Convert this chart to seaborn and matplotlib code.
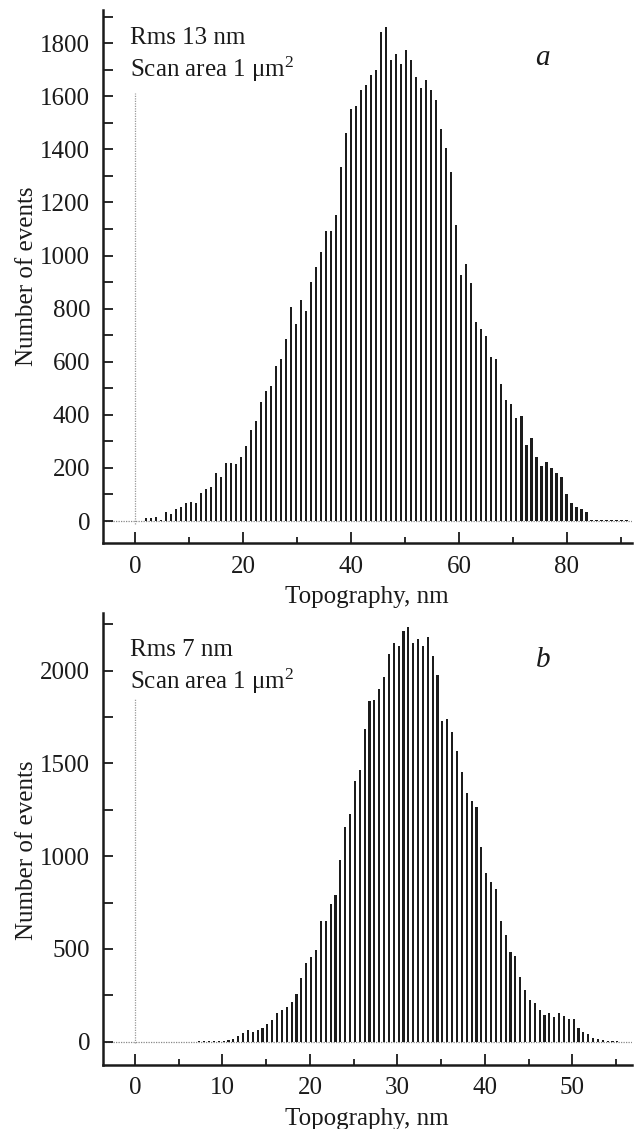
import numpy as np
import matplotlib
matplotlib.use("Agg")
import matplotlib.pyplot as plt
from matplotlib.ticker import MultipleLocator
import seaborn as sns

# Panel a: Rms 13 nm, bins
start_a = 2.04
bin_a = 0.927
counts_a = [10, 10, 16, 5, 35, 26, 44, 52, 69, 70, 69, 104, 122, 129, 180, 164,
            217, 217, 215, 242, 284, 343, 376, 448, 489, 508, 585, 611, 685, 807,
            741, 832, 792, 901,
            957, 1014, 1093, 1093, 1152, 1334, 1460, 1554, 1563, 1623, 1642, 1679,
            1698, 1842, 1861, 1738, 1758, 1721, 1776, 1738, 1671, 1630, 1663, 1623,
            1585, 1475, 1407, 1313, 1117, 926, 970,
            895, 748, 722, 697, 619, 611, 517, 456, 439, 389, 396, 286, 311, 242,
            207, 223, 198, 180, 164, 102, 69, 52, 44, 33,
            5, 4, 3, 2, 4, 3, 4, 3]

# Panel b: Rms 7 nm
start_b = 7.35
bin_b = 0.556
counts_b = [3, 4, 3, 4, 3, 2, 9, 12, 32, 45, 63, 51, 63, 72, 96, 114, 153, 168,
            186, 216, 257, 342, 423, 454, 495, 651, 651, 742, 792, 977,
            1155, 1227, 1403, 1466, 1688, 1835, 1844, 1903, 1966, 2091, 2150, 2132,
            2213, 2234, 2150, 2173, 2132, 2182, 2078, 1975, 1731, 1742, 1670, 1565,
            1452, 1340, 1299, 1268,
            1052, 909, 863, 822, 648, 576, 482, 462, 351, 279, 225, 207, 171, 144,
            153, 135, 153, 139, 124, 122, 72, 51, 40, 22, 14, 9, 5, 4, 3]

centers_a = np.round(start_a + bin_a * np.arange(len(counts_a)), 4)
centers_b = np.round(start_b + bin_b * np.arange(len(counts_b)), 4)

sns.set_theme(style="ticks")
plt.rcParams['font.family'] = ['Liberation Serif', 'DejaVu Serif']
plt.rcParams['mathtext.fontset'] = 'custom'
plt.rcParams['mathtext.rm'] = 'Liberation Serif'
plt.rcParams['mathtext.it'] = 'Liberation Serif:italic'

FS = 18
BAR_COLOR = "#1c1c1c"


def draw_panel(ax, centers, counts, xlim, ylim, xmaj, xmin, ymaj, ymin,
               vline_top, rms_text, letter, text_y, letter_y, label_y):
    sns.barplot(x=centers, y=counts, native_scale=True, orient="x", width=0.44,
                color=BAR_COLOR, saturation=1, errorbar=None, linewidth=0, ax=ax)
    # zero guides
    ax.axhline(0, color="#888888", lw=0.9, ls=(0, (1, 1)), zorder=0)
    ax.vlines(0, -10, vline_top, color="#999999", lw=0.9, ls=(0, (1, 1)), zorder=0)

    ax.set_xlim(*xlim)
    ax.set_ylim(*ylim)
    ax.xaxis.set_major_locator(MultipleLocator(xmaj))
    ax.xaxis.set_minor_locator(MultipleLocator(xmin))
    ax.yaxis.set_major_locator(MultipleLocator(ymaj))
    ax.yaxis.set_minor_locator(MultipleLocator(ymin))

    ax.tick_params(axis="both", which="both", direction="in", width=1.3,
                   labelsize=FS, colors="#1a1a1a")
    ax.tick_params(axis="x", which="major", length=8, pad=9)
    ax.tick_params(axis="x", which="minor", length=4.5)
    ax.tick_params(axis="y", which="major", length=7, pad=9)
    ax.tick_params(axis="y", which="minor", length=7)

    sns.despine(ax=ax)
    for side in ("left", "bottom"):
        ax.spines[side].set_linewidth(1.8)
        ax.spines[side].set_color("#1a1a1a")

    ax.set_xlabel("Topography, nm", fontsize=FS, color="#1a1a1a", labelpad=6)
    ax.set_ylabel("Number of events", fontsize=FS, color="#1a1a1a")
    ax.yaxis.set_label_coords(-0.122, label_y)

    ax.text(0.052, text_y[0], rms_text, transform=ax.transAxes, fontsize=FS,
            color="#1a1a1a", va="baseline")
    ax.text(0.052, text_y[1], r"Scan area 1 $\mathrm{\mu m}^2$", transform=ax.transAxes,
            fontsize=FS, color="#1a1a1a", va="baseline")
    ax.text(0.832, letter_y, letter, transform=ax.transAxes, fontsize=FS + 3,
            style="italic", color="#1a1a1a", ha="center", va="baseline")


fig = plt.figure(figsize=(6.37, 11.29), dpi=100)
ax_a = fig.add_axes([0.1612, 0.519, 0.8305, 0.4721])
ax_b = fig.add_axes([0.1612, 0.0567, 0.8305, 0.4004])

draw_panel(ax_a, centers_a, counts_a, (-6, 92), (-83, 1925), 20, 10, 200, 100,
           1611, "Rms 13 nm", "a", (0.936, 0.874), 0.897, 0.50)
draw_panel(ax_b, centers_b, counts_b, (-3.7, 56.8), (-126, 2312), 10, 5, 500, 250,
           1848, "Rms 7 nm", "b", (0.905, 0.831), 0.881, 0.476)

fig.savefig("out.png", dpi=100)
